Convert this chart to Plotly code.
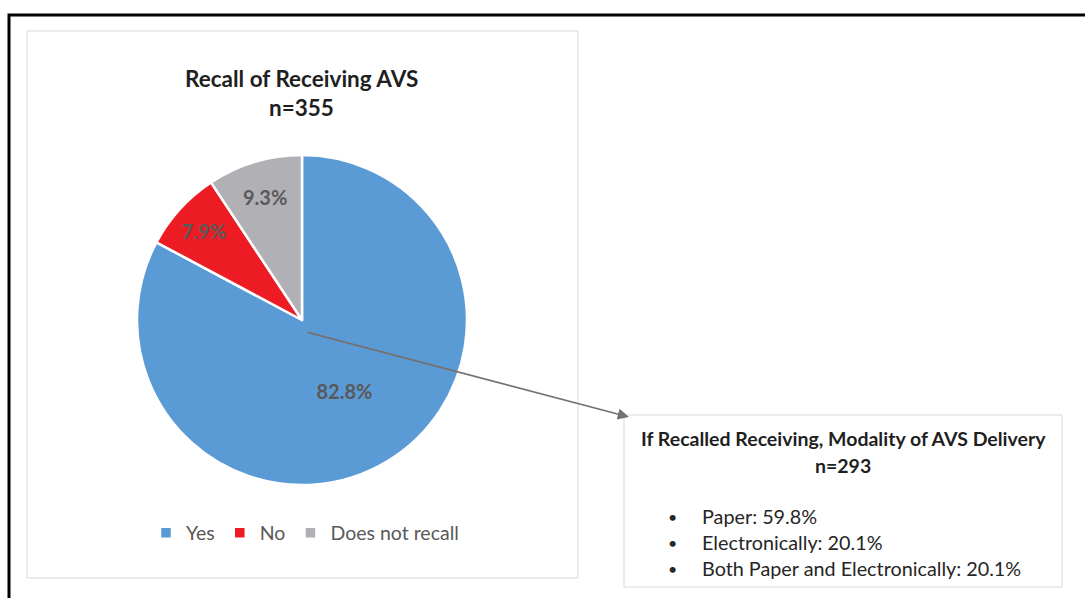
import plotly.graph_objects as go

W, H = 1085, 598

labels = ["Yes", "No", "Does not recall"]
values = [82.8, 7.9, 9.3]
colors = ["#5B9BD5", "#ED1C24", "#B1B1B5"]

pie_title = ["Recall of Receiving AVS", "n=355"]
box_title = ["If Recalled Receiving, Modality of AVS Delivery", "n=293"]
box_items = ["Paper: 59.8%", "Electronically: 20.1%", "Both Paper and Electronically: 20.1%"]

FONT = "Lato, 'Open Sans', sans-serif"

def px(x):
    return x / W

def py(y):
    return 1 - y / H

fig = go.Figure()
fig.add_trace(go.Pie(
    labels=labels, values=values, sort=False, direction="clockwise", rotation=0,
    marker=dict(colors=colors, line=dict(color="white", width=2.5)),
    texttemplate="%{value:.1f}%", textposition="inside",
    insidetextorientation="horizontal",
    textfont=dict(family=FONT, size=20, color="#595959", weight="bold"),
    domain=dict(x=[px(137), px(467)], y=[py(485), py(155)]),
    hoverinfo="label+value",
))

shapes = [
    dict(type="rect", xref="paper", yref="paper", x0=px(9), x1=px(1095), y0=py(610), y1=py(15),
         line=dict(color="black", width=3)),
    dict(type="rect", xref="paper", yref="paper", x0=px(27), x1=px(578), y0=py(578), y1=py(31),
         line=dict(color="#D9D9D9", width=1)),
    dict(type="rect", xref="paper", yref="paper", x0=px(624), x1=px(1062), y0=py(587), y1=py(415),
         line=dict(color="#D9D9D9", width=1)),
]

ann = []
for i, t in enumerate(pie_title):
    ann.append(dict(text=f"<b>{t}</b>", x=px(301), y=py(78 + 29 * i), xref="paper", yref="paper",
                    showarrow=False, xanchor="center", yanchor="middle",
                    font=dict(family=FONT, size=22.5, color="#1F1F1F")))
for i, t in enumerate(box_title):
    ann.append(dict(text=f"<b>{t}</b>", x=px(843), y=py(438 + 27 * i), xref="paper", yref="paper",
                    showarrow=False, xanchor="center", yanchor="middle",
                    font=dict(family=FONT, size=19.5, color="#1F1F1F")))
for i, t in enumerate(box_items):
    yy = py(516 + 26 * i)
    ann.append(dict(text="•", x=px(672), y=yy, xref="paper", yref="paper", showarrow=False,
                    xanchor="center", yanchor="middle", font=dict(family=FONT, size=16, color="#262626")))
    ann.append(dict(text=t, x=px(700), y=yy, xref="paper", yref="paper", showarrow=False,
                    xanchor="left", yanchor="middle", font=dict(family=FONT, size=19.8, color="#262626")))

ann.append(dict(text="", x=px(629), y=py(417), xref="paper", yref="paper",
                ax=306 - 629, ay=332 - 417, showarrow=True, arrowhead=2, arrowsize=1.4,
                arrowwidth=1.6, arrowcolor="#767171"))

fig.update_layout(
    width=W, height=H, margin=dict(l=0, r=0, t=0, b=0),
    paper_bgcolor="white", plot_bgcolor="white",
    shapes=shapes, annotations=ann,
    showlegend=True,
    legend=dict(orientation="h", x=px(305), y=py(533), xanchor="center", yanchor="middle",
                font=dict(family=FONT, size=19.5, color="#595959"), itemwidth=30,
                traceorder="normal", bgcolor="rgba(0,0,0,0)"),
)

fig.write_html("out.html", config={"displayModeBar": False},
               post_script="document.body.style.margin='0';")
